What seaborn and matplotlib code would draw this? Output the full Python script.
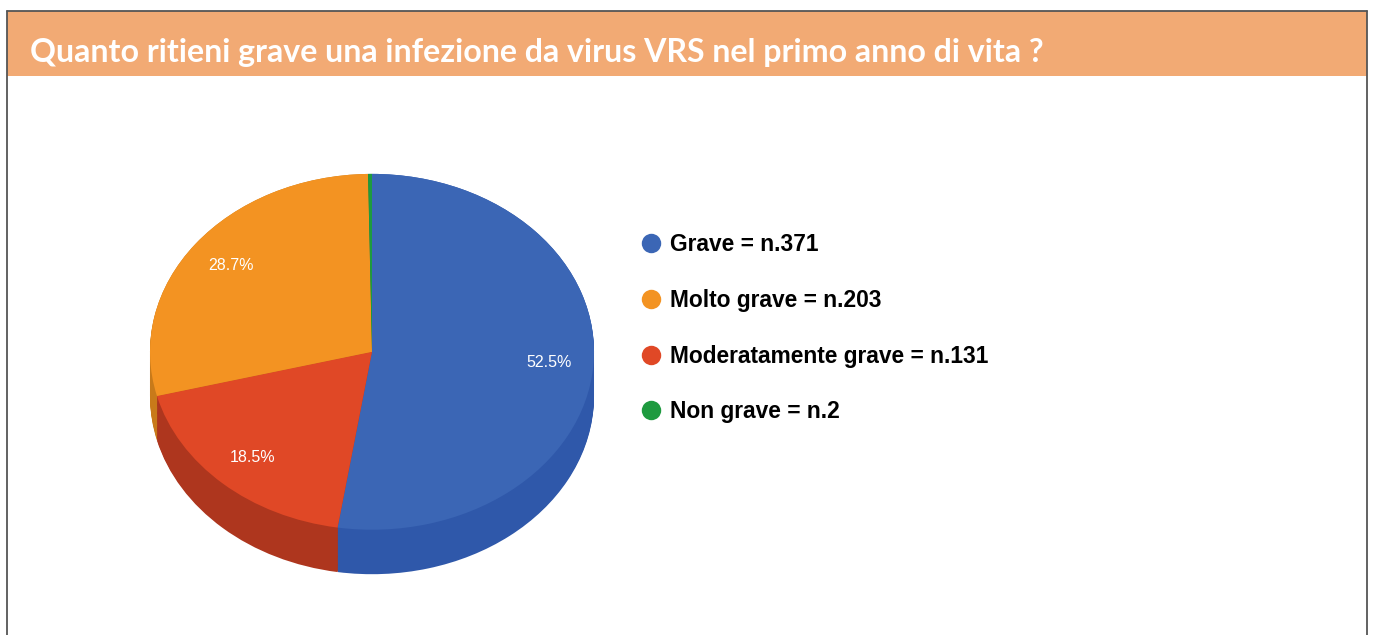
import numpy as np
import matplotlib
matplotlib.use("Agg")
import matplotlib.pyplot as plt
import seaborn as sns
from matplotlib.lines import Line2D
from matplotlib.patches import Rectangle

# ---------------- data ----------------
title = "Quanto ritieni grave una infezione da virus VRS nel primo anno di vita ?"
categories = ["Grave", "Molto grave", "Moderatamente grave", "Non grave"]
counts = [371, 203, 131, 2]
pie_order = ["Grave", "Moderatamente grave", "Molto grave", "Non grave"]
top_colors = {"Grave": "#3B66B5", "Molto grave": "#F39322",
              "Moderatamente grave": "#E04826", "Non grave": "#1E9A3F"}
side_colors = {"Grave": "#2F58AA", "Molto grave": "#C87A1A",
               "Moderatamente grave": "#AE361E", "Non grave": "#157A30"}

sns.set_theme(style="white")
plt.rcParams['font.family'] = ['Liberation Sans', 'DejaVu Sans']

W, H = 1375, 635
fig = plt.figure(figsize=(W / 100, H / 100), dpi=100)
fig.patch.set_facecolor('white')


def fx(px):
    return px / W


def fy(py):
    return 1 - py / H


# header band and frame
fig.add_artist(Rectangle((fx(7), fy(76)), fx(1367) - fx(7), fy(11) - fy(76),
                         transform=fig.transFigure, facecolor='#F2AA74',
                         edgecolor='none', zorder=0))
for xs, ys in [([7, 7], [11, H + 2]), ([1367, 1367], [11, H + 2]), ([7, 1367], [11, 11])]:
    fig.add_artist(Line2D([fx(x) for x in xs], [fy(y) for y in ys],
                          transform=fig.transFigure, color='#555555', lw=1.3))

# title auto-fitted to width
t = fig.text(fx(30), fy(62), title, color='white', fontweight='bold',
             fontsize=21, ha='left', va='baseline', family=['Lato', 'DejaVu Sans'])
fig.canvas.draw()
w = t.get_window_extent().width
t.set_fontsize(21 * (1045 - 30) / w)

# ---------------- pseudo-3D pie ----------------
ax = fig.add_axes([fx(150), fy(592), fx(594) - fx(150), fy(165) - fy(592)])
vals = [counts[categories.index(c)] for c in pie_order]
tcols = [top_colors[c] for c in pie_order]
scols = [side_colors[c] for c in pie_order]
depth = 0.25
for k in np.linspace(depth, 0.0, 40):
    ax.pie(vals, colors=scols, startangle=90, counterclock=False,
           center=(0, -k), wedgeprops=dict(linewidth=0))
ax.pie(vals, colors=tcols, startangle=90, counterclock=False,
       autopct=lambda p: f"{p:.1f}%" if p >= 1 else "", pctdistance=0.8,
       textprops=dict(color='white', fontsize=11.5),
       wedgeprops=dict(linewidth=0))
ax.set_aspect('auto')
ax.set_xlim(-1, 1)
ax.set_ylim(-1.35, 1.05)
ax.axis('off')

# ---------------- legend ----------------
labels = [f"{c} = n.{n}" for c, n in zip(categories, counts)]
probe = fig.text(0, 0, labels[2], fontsize=15, fontweight='bold')
fig.canvas.draw()
lw = probe.get_window_extent().width
probe.remove()
lfs = 15 * 321 / lw

handles = [Line2D([], [], marker='o', linestyle='none', markersize=14,
                  markerfacecolor=top_colors[c], markeredgecolor='none')
           for c in categories]
fpx = lfs * 100 / 72
hl = 1.0
htp = (19 - hl * fpx / 2) / fpx
leg = fig.legend(handles, labels, loc='upper left',
                 bbox_to_anchor=(fx(651 - hl * fpx / 2), fy(233)),
                 frameon=False, prop=dict(weight='bold', size=lfs),
                 handlelength=hl, handletextpad=htp, labelspacing=1.44,
                 borderpad=0, borderaxespad=0)
for txt in leg.get_texts():
    txt.set_color('black')

fig.savefig("out.png", dpi=100)
